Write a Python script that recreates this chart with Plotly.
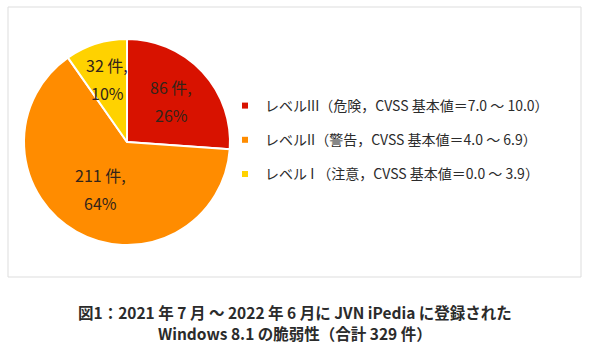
import math
import plotly.graph_objects as go

# ---- data ----
levels = ["レベルIII（危険，CVSS 基本値＝7.0 ～ 10.0）",
          "レベルII（警告，CVSS 基本値＝4.0 ～ 6.9）",
          "レベル I （注意，CVSS 基本値＝0.0 ～ 3.9）"]
counts = [86, 211, 32]
colors = ["#D81200", "#FF8C00", "#FFD200"]
title_lines = ["図1：2021 年 7 月 ～ 2022 年 6 月に JVN iPedia に登録された",
               "Windows 8.1 の脆弱性（合計 329 件）"]

W, H = 590, 347
FONT = "Noto Sans CJK JP"
TXT = "#2b2b2b"

def px(x):
    return x / W

def py(y):
    return 1 - y / H

# pie geometry (pixels)
cx, cy, r = 127, 142, 103
label_r = [0.59, 0.53, 0.64]

fig = go.Figure()
fig.add_trace(go.Pie(
    values=counts, labels=levels, marker=dict(colors=colors, line=dict(color="white", width=2)),
    sort=False, direction="clockwise", rotation=0, textinfo="none", hoverinfo="label+value+percent",
    showlegend=False,
    domain=dict(x=[px(cx - r), px(cx + r)], y=[py(cy + r), py(cy - r)]),
))

# legend via invisible scatter traces
for name, col in zip(levels, colors):
    fig.add_trace(go.Scatter(x=[None], y=[None], mode="markers", name=name, legendgroup=name,
                             marker=dict(symbol="square", size=6, color=col)))

# slice labels computed from data
total = sum(counts)
ann = []
cum = 0
for i, v in enumerate(counts):
    mid = (cum + v / 2) / total * 2 * math.pi
    cum += v
    lx = cx + label_r[i] * r * math.sin(mid)
    ly = cy - label_r[i] * r * math.cos(mid)
    pct = round(v / total * 100)
    for txt, dy in ((f"{v} 件,", -14), (f"{pct}%", 14)):
        ann.append(dict(x=px(lx), y=py(ly + dy), xref="paper", yref="paper", text=txt,
                        showarrow=False, xanchor="center", yanchor="middle",
                        font=dict(family=FONT, size=16, color="#33241a")))

for t, y in zip(title_lines, (312, 333)):
    ann.append(dict(x=0.5, y=py(y), xref="paper", yref="paper", text=f"<b>{t}</b>",
                    showarrow=False, xanchor="center", yanchor="middle",
                    font=dict(family=FONT, size=15.5, color=TXT)))

fig.update_layout(
    width=W, height=H, margin=dict(l=0, r=0, t=0, b=0),
    paper_bgcolor="white", plot_bgcolor="white",
    xaxis=dict(visible=False), yaxis=dict(visible=False),
    annotations=ann,
    showlegend=True,
    legend=dict(x=px(225), y=py(140), xanchor="left", yanchor="middle",
                tracegroupgap=13, traceorder="grouped",
                font=dict(family=FONT, size=14, color=TXT), bgcolor="rgba(0,0,0,0)"),
    shapes=[dict(type="rect", xref="paper", yref="paper", x0=px(8), x1=px(581), y0=py(277), y1=py(7),
                 line=dict(color="#DDDDDD", width=1), layer="below")],
)

fig.write_html("out.html")
